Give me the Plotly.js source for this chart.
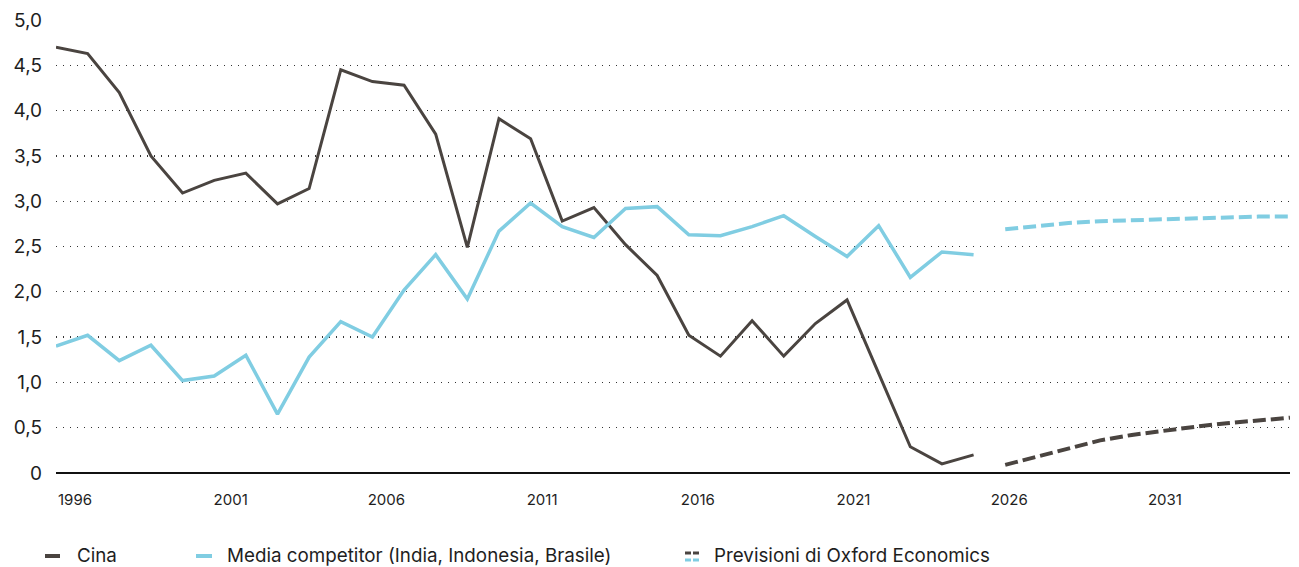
<!DOCTYPE html>
<html>
<head>
<meta charset="utf-8">
<script src="https://cdn.plot.ly/plotly-3.0.1.min.js"></script>
<style>
  html, body { margin: 0; padding: 0; background: #ffffff; }
  #chart { width: 1299px; height: 567px; }
</style>
</head>
<body>
<div id="chart"></div>
<script>
// ---- Data ----
const years = [1996,1997,1998,1999,2000,2001,2002,2003,2004,2005,2006,2007,2008,2009,2010,
               2011,2012,2013,2014,2015,2016,2017,2018,2019,2020,2021,2022,2023,2024,2025];
const cina = [4.70,4.63,4.20,3.50,3.09,3.23,3.31,2.97,3.14,4.45,4.32,4.28,3.74,2.49,3.91,
              3.69,2.78,2.93,2.52,2.18,1.52,1.29,1.68,1.29,1.65,1.91,1.10,0.29,0.10,0.20];
const competitor = [1.40,1.52,1.24,1.41,1.02,1.07,1.30,0.65,1.28,1.67,1.50,2.02,2.41,1.92,2.67,
                    2.98,2.72,2.60,2.92,2.94,2.63,2.62,2.72,2.84,2.61,2.39,2.73,2.16,2.44,2.41];

const forecastYears = [2026,2027,2028,2029,2030,2031,2032,2033,2034,2035];
const cinaForecast = [0.09,0.18,0.27,0.36,0.42,0.47,0.51,0.55,0.58,0.61];
const competitorForecast = [2.69,2.73,2.76,2.78,2.79,2.80,2.82,2.82,2.83,2.83];

const xTickYears = [1996,2001,2006,2011,2016,2021,2026,2031];
const xTickLabels = ['1996','2001','2006','2011','2016','2021','2026','2031'];
const yTickVals = [0,0.5,1,1.5,2,2.5,3,3.5,4,4.5,5];
const yTickLabels = ['0','0,5','1,0','1,5','2,0','2,5','3,0','3,5','4,0','4,5','5,0'];

const legendNames = ['Cina', 'Media competitor (India, Indonesia, Brasile)', 'Previsioni di Oxford Economics'];

// ---- Styles ----
const DARK = '#4a4440';
const BLUE = '#80cde2';
const FONT = 'Inter, "Liberation Sans", Arial, sans-serif';
const TEXT = '#1e1e1e';

const L = 56, R = 9, T = 20, B = 94, W = 1299, H = 567;
const PW = W - L - R, PH = H - T - B;
const px = x => (x - L) / PW;
const py = y => (H - B - y) / PH;

const traces = [
  { x: years, y: cina, type: 'scatter', mode: 'lines', name: legendNames[0],
    line: { color: DARK, width: 3 }, hoverinfo: 'x+y' },
  { x: years, y: competitor, type: 'scatter', mode: 'lines', name: legendNames[1],
    line: { color: BLUE, width: 3.5 }, hoverinfo: 'x+y' },
  { x: forecastYears, y: cinaForecast, type: 'scatter', mode: 'lines', name: legendNames[2],
    line: { color: DARK, width: 4, dash: '13px,5px' }, hoverinfo: 'x+y' },
  { x: forecastYears, y: competitorForecast, type: 'scatter', mode: 'lines', name: legendNames[2],
    line: { color: BLUE, width: 4, dash: '13px,5px' }, hoverinfo: 'x+y' },
  // tick-label carrier for the label axis
  { x: [1996], y: [0], xaxis: 'x2', type: 'scatter', mode: 'markers',
    marker: { opacity: 0 }, hoverinfo: 'skip', showlegend: false }
];

// ---- Legend built by hand ----
const shapes = [];
const annotations = [];
function hline(x0, x1, y, color, w) {
  shapes.push({ type: 'line', xref: 'paper', yref: 'paper',
    x0: px(x0), x1: px(x1), y0: py(y), y1: py(y),
    line: { color: color, width: w } });
}
function label(x, y, text) {
  annotations.push({ xref: 'paper', yref: 'paper', x: px(x), y: py(y),
    xanchor: 'left', yanchor: 'middle', showarrow: false, text: text,
    font: { family: FONT, size: 18.8, color: TEXT } });
}
hline(45, 60, 556, DARK, 4);
label(75, 555, legendNames[0]);
hline(196, 212, 556, BLUE, 4);
label(225, 555, legendNames[1]);
hline(685, 691, 553, DARK, 3);
hline(693, 699, 553, DARK, 3);
hline(685, 691, 560, BLUE, 3);
hline(693, 699, 560, BLUE, 3);
label(712, 555, legendNames[2]);

// label axis range: labels sit slightly right of the data years
const labelStart = 1996 - 19 / 31.14;
const labelEnd = labelStart + PW / 31.14;

const layout = {
  width: W, height: H,
  margin: { l: L, r: R, t: T, b: B },
  paper_bgcolor: '#ffffff', plot_bgcolor: '#ffffff',
  showlegend: false,
  font: { family: FONT, color: TEXT },
  xaxis: {
    range: [1996, 2035], showgrid: false, zeroline: false, showline: false,
    showticklabels: false, ticks: ''
  },
  xaxis2: {
    overlaying: 'x', anchor: 'y', side: 'bottom',
    range: [labelStart, labelEnd], showgrid: false, zeroline: false, showline: false,
    tickmode: 'array', tickvals: xTickYears, ticktext: xTickLabels, ticks: '',
    tickfont: { family: FONT, size: 15, color: TEXT }, ticklabelstandoff: 16
  },
  yaxis: {
    range: [0, 5], tickmode: 'array', tickvals: yTickVals, ticktext: yTickLabels,
    showgrid: true, gridcolor: '#333333', gridwidth: 1.4, griddash: '1.4px,5.6px',
    zeroline: true, zerolinecolor: '#111111', zerolinewidth: 2.5,
    showline: false, ticks: '',
    tickfont: { family: FONT, size: 19, color: TEXT }, ticklabelstandoff: 13
  },
  shapes: shapes,
  annotations: annotations
};

Plotly.newPlot('chart', traces, layout, { displayModeBar: false, staticPlot: true });
</script>
</body>
</html>
